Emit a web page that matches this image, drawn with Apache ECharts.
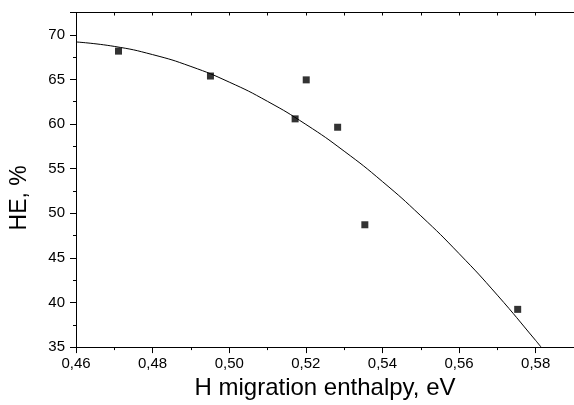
<!DOCTYPE html>
<html>
<head>
<meta charset="utf-8">
<script src="https://cdn.jsdelivr.net/npm/echarts@6/dist/echarts.min.js"></script>
<style>
html,body{margin:0;padding:0;background:#fff;}
#chart{width:574px;height:405px;}
</style>
</head>
<body>
<div id="chart"></div>
<script>
// Measured data points
var enthalpy = [0.4711, 0.4951, 0.5172, 0.5201, 0.5283, 0.5354, 0.5753];
var heValues = [68.17, 65.38, 60.58, 64.95, 59.64, 48.71, 39.23];
// Fit curve
var curveX = [0.46, 0.47, 0.48, 0.49, 0.50, 0.51, 0.52, 0.53, 0.54, 0.55, 0.56, 0.57, 0.58, 0.5814];
var curveY = [69.20, 68.70, 67.78, 66.45, 64.70, 62.54, 59.96, 56.96, 53.55, 49.72, 45.48, 40.82, 35.74, 35.00];
var xTicks = {min: 0.46, max: 0.59, interval: 0.02};
var yTicks = {min: 35, max: 72.5, interval: 5};

var scatterData = enthalpy.map(function (x, i) { return [x, heValues[i]]; });
var curveData = curveX.map(function (x, i) { return [x, curveY[i]]; });

var chart = echarts.init(document.getElementById('chart'), null, {renderer: 'canvas'});
var font = '"Liberation Sans", Arial, sans-serif';
var axisLine = {show: true, onZero: false, lineStyle: {color: '#000', width: 1}};
chart.setOption({
  animation: false,
  backgroundColor: '#fff',
  grid: {left: 73, right: 0, top: 12.5, bottom: 51.7, containLabel: false},
  xAxis: [{
    type: 'value',
    min: xTicks.min, max: xTicks.max, interval: xTicks.interval,
    name: 'H migration enthalpy, eV',
    nameLocation: 'middle',
    nameGap: 28,
    nameTextStyle: {fontFamily: font, fontSize: 24, color: '#000', verticalAlign: 'top'},
    axisLine: axisLine,
    axisTick: {show: true, inside: false, length: 6, lineStyle: {color: '#000'}},
    minorTick: {show: true, splitNumber: 2, length: 3, lineStyle: {color: '#000'}},
    splitLine: {show: false},
    axisLabel: {
      fontFamily: font, fontSize: 15, color: '#000', margin: 9,
      showMaxLabel: false,
      formatter: function (v) {
        var r = Math.round(v * 100);
        if (Math.abs(v * 100 - r) > 1e-6 || r % 2 !== 0) return '';
        return v.toFixed(2).replace('.', ',');
      }
    }
  }, {
    type: 'value', position: 'top',
    min: xTicks.min, max: xTicks.max, interval: 0.01,
    axisLine: axisLine,
    axisTick: {show: true, inside: true, length: 3, lineStyle: {color: '#000'}},
    axisLabel: {show: false},
    splitLine: {show: false}
  }],
  yAxis: [{
    type: 'value',
    min: yTicks.min, max: yTicks.max, interval: yTicks.interval,
    name: 'HE, %',
    nameLocation: 'middle',
    nameRotate: 90,
    nameGap: 45,
    nameTextStyle: {fontFamily: font, fontSize: 23, color: '#000', padding: [0, 36, 0, 0]},
    axisLine: axisLine,
    axisTick: {show: true, inside: false, length: 6, lineStyle: {color: '#000'}},
    minorTick: {show: true, splitNumber: 2, length: 3, lineStyle: {color: '#000'}},
    splitLine: {show: false},
    axisLabel: {
      fontFamily: font, fontSize: 15, color: '#000', margin: 11,
      showMaxLabel: false,
      formatter: function (v) { return (v % 5 === 0) ? String(v) : ''; }
    }
  }],
  series: [{
    type: 'line',
    data: curveData,
    smooth: true,
    showSymbol: false,
    symbol: 'none',
    lineStyle: {color: '#000', width: 1},
    z: 2
  }, {
    type: 'scatter',
    data: scatterData,
    symbol: 'rect',
    symbolSize: 7,
    itemStyle: {color: '#000'},
    z: 3
  }]
});
</script>
</body>
</html>
